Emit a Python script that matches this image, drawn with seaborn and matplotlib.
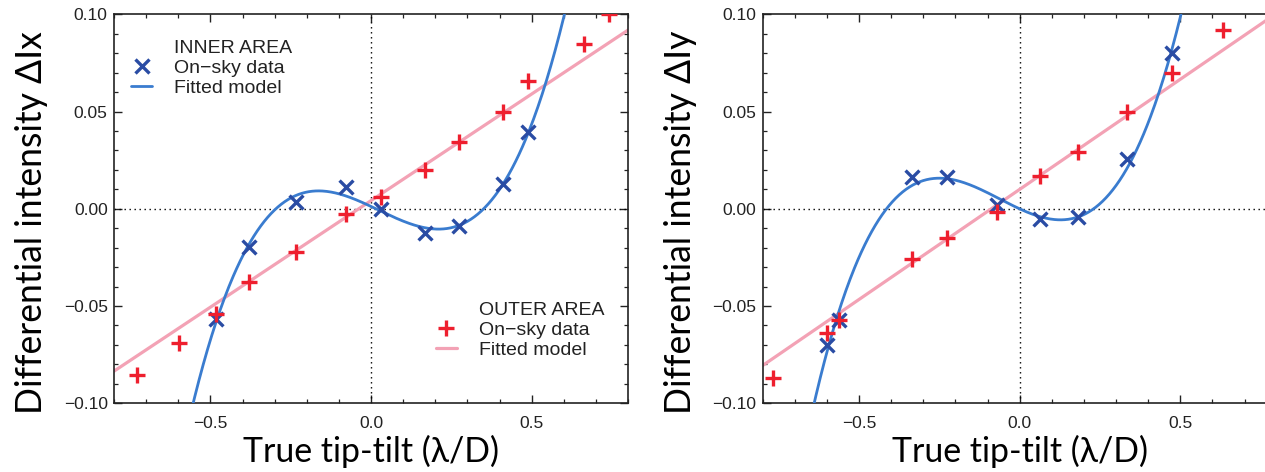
import numpy as np
import pandas as pd
import matplotlib
matplotlib.use("Agg")
import matplotlib.pyplot as plt
from matplotlib.lines import Line2D
from matplotlib.ticker import MultipleLocator, FixedLocator, FixedFormatter
import seaborn as sns

# ---------------- data ----------------
# Left panel: differential intensity dIx vs true tip-tilt (lambda/D)
inner_x_tt = [-0.482, -0.381, -0.233, -0.079, 0.031, 0.167, 0.274, 0.411, 0.489]
inner_x_di = [-0.0569, -0.0195, 0.0034, 0.0113, -0.0003, -0.0123, -0.0086, 0.0125, 0.0394]
outer_x_tt = [-0.727, -0.599, -0.481, -0.381, -0.233, -0.079, 0.032, 0.167,
              0.274, 0.411, 0.489, 0.663, 0.742]
outer_x_di = [-0.0857, -0.0692, -0.054, -0.0377, -0.0221, -0.0026, 0.0062, 0.0202,
              0.0343, 0.050, 0.0655, 0.0848, 0.0999]
outer_x_fit = [0.1096, 0.0042]          # slope, intercept of the outer-area model

# Right panel: differential intensity dIy vs true tip-tilt (lambda/D)
inner_y_tt = [-0.599, -0.562, -0.335, -0.227, -0.071, 0.063, 0.181, 0.335, 0.474]
inner_y_di = [-0.0701, -0.0572, 0.0163, 0.0163, 0.0019, -0.0055, -0.0041, 0.0254, 0.0799]
outer_y_tt = [-0.769, -0.599, -0.562, -0.335, -0.227, -0.071, 0.063, 0.181,
              0.335, 0.474, 0.633]
outer_y_di = [-0.0872, -0.0641, -0.0572, -0.0257, -0.0151, -0.0015, 0.0168, 0.0291,
              0.0499, 0.0699, 0.0919]
outer_y_fit = [0.1132, 0.0100]

x_ticks = [-0.5, 0.0, 0.5]
x_ticklabels = ["\u22120.5", "0.0", "0.5"]
y_ticks = [-0.10, -0.05, 0.0, 0.05, 0.10]
y_ticklabels = ["\u22120.10", "\u22120.05", "0.00", "0.05", "0.10"]
x_label = "True tip-tilt (\u03bb/D)"
y_labels = ["Differential intensity \u0394Ix", "Differential intensity \u0394Iy"]
inner_title = "INNER AREA"
outer_title = "OUTER AREA"
data_label = "On\u2212sky data"
model_label = "Fitted model"

# ---------------- style ----------------
sns.set_theme(style="ticks")
plt.rcParams["font.family"] = ["Liberation Sans", "DejaVu Sans"]

C_XMARK = "#2a4ca4"
C_CURVE = "#3a7ccf"
C_PLUS = "#ee1f2e"
C_PINK = "#f3a2b5"
C_TEXT = "#222222"

W, H = 1265, 472
fig = plt.figure(figsize=(W / 100, H / 100), dpi=100)
fig.patch.set_facecolor("white")

ax_w = 514 / W
ax_b = (H - 403.3) / H
ax_h = (403.3 - 14.3) / H
axes = [fig.add_axes([114 / W, ax_b, ax_w, ax_h]),
        fig.add_axes([762.7 / W, ax_b, ax_w, ax_h])]

panels = [
    (inner_x_tt, inner_x_di, outer_x_tt, outer_x_di, outer_x_fit),
    (inner_y_tt, inner_y_di, outer_y_tt, outer_y_di, outer_y_fit),
]

grid = np.linspace(-0.8, 0.8, 600)

for i, (ax, (itt, idi, ott, odi, ofit)) in enumerate(zip(axes, panels)):
    ax.set_facecolor("white")
    ax.set_xlim(-0.8, 0.8)
    ax.set_ylim(-0.10, 0.10)

    # zero reference lines
    ax.axhline(0, color="black", lw=1.0, ls=(0, (1, 2.6)), zorder=1)
    ax.axvline(0, color="black", lw=1.0, ls=(0, (1, 2.6)), zorder=1)

    # models
    cubic = np.polyfit(itt, idi, 3)
    df_model = pd.DataFrame({
        "tt": grid,
        "inner": np.polyval(cubic, grid),
        "outer": np.polyval(ofit, grid),
    })
    sns.lineplot(data=df_model, x="tt", y="outer", ax=ax, color=C_PINK, lw=2.3,
                 sort=False, zorder=2)
    sns.lineplot(data=df_model, x="tt", y="inner", ax=ax, color=C_CURVE, lw=2.0,
                 sort=False, zorder=3)

    # data
    sns.scatterplot(x=itt, y=idi, ax=ax, marker="x", s=100, color=C_XMARK,
                    linewidth=2.4, zorder=4)
    sns.scatterplot(x=ott, y=odi, ax=ax, marker="+", s=145, color=C_PLUS,
                    linewidth=2.4, zorder=5)

    # ticks
    ax.xaxis.set_major_locator(FixedLocator(x_ticks))
    ax.xaxis.set_major_formatter(FixedFormatter(x_ticklabels))
    ax.yaxis.set_major_locator(FixedLocator(y_ticks))
    ax.yaxis.set_major_formatter(FixedFormatter(y_ticklabels))
    ax.xaxis.set_minor_locator(MultipleLocator(0.1))
    ax.yaxis.set_minor_locator(MultipleLocator(0.01))
    ax.tick_params(which="both", direction="in", top=True, right=True,
                   color=C_TEXT, labelcolor=C_TEXT, labelsize=12.5)
    ax.tick_params(which="major", length=5.5, width=1.0)
    ax.tick_params(which="minor", length=2.8, width=0.9)
    ax.tick_params(axis="x", which="major", pad=9)
    ax.tick_params(axis="y", which="major", pad=4.5)
    for sp in ax.spines.values():
        sp.set_color(C_TEXT)
        sp.set_linewidth(1.2)

    ax.set_xlabel(x_label, fontsize=24.4, family="Lato", color="black")
    ax.set_ylabel(y_labels[i], fontsize=25.6, family="Lato", color="black")
    ax.xaxis.set_label_coords(0.5, -0.082)
    ax.yaxis.set_label_coords(-0.128, 0.4646)

# legends (left panel only)
ax = axes[0]
blank = Line2D([], [], linestyle="none", marker="none")
h_x = Line2D([], [], linestyle="none", marker="x", markersize=9.5, mew=2.4, color=C_XMARK)
h_curve = Line2D([], [], color=C_CURVE, lw=2.0)
leg_kw = dict(loc="upper left", frameon=False, fontsize=14, handlelength=1.1,
              handletextpad=1.1, labelspacing=0.12, borderpad=0, borderaxespad=0,
              labelcolor=C_TEXT)
leg1 = ax.legend([blank, h_x, h_curve], [inner_title, data_label, model_label],
                 bbox_to_anchor=(0.033, 0.935), **leg_kw)
ax.add_artist(leg1)
h_p = Line2D([], [], linestyle="none", marker="+", markersize=11.5, mew=2.4, color=C_PLUS)
h_line = Line2D([], [], color=C_PINK, lw=2.3)
ax.legend([blank, h_p, h_line], [outer_title, data_label, model_label],
          bbox_to_anchor=(0.626, 0.262), **leg_kw)

fig.savefig("out.png", dpi=100, facecolor="white")
